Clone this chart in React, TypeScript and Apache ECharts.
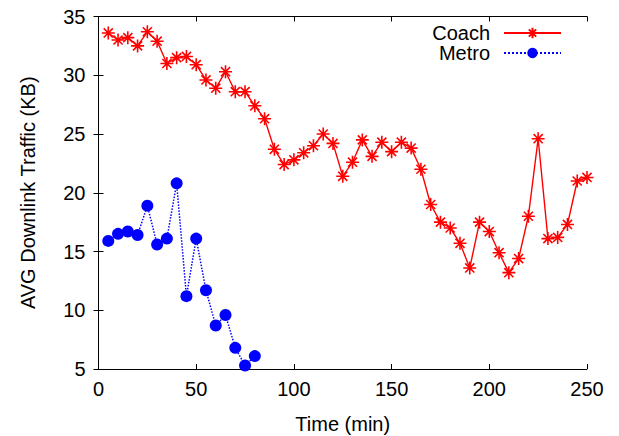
import React, { useEffect, useRef } from "react";
import * as echarts from "echarts";

// Time stamps (minutes) shared by both series
const coachTime = [
  5, 10, 15, 20, 25, 30, 35, 40, 45, 50, 55, 60, 65, 70, 75, 80, 85, 90, 95, 100,
  105, 110, 115, 120, 125, 130, 135, 140, 145, 150, 155, 160, 165, 170, 175, 180,
  185, 190, 195, 200, 205, 210, 215, 220, 225, 230, 235, 240, 245, 250,
];
const coachTraffic = [
  33.6, 33.0, 33.2, 32.5, 33.7, 32.9, 31.0, 31.5, 31.6, 30.9, 29.6, 28.9, 30.3, 28.6,
  28.6, 27.4, 26.3, 23.7, 22.4, 22.8, 23.4, 24.0, 25.0, 24.2, 21.4, 22.6, 24.5, 23.1,
  24.3, 23.5, 24.3, 23.8, 22.0, 19.0, 17.5, 17.0, 15.7, 13.6, 17.5, 16.7, 14.9, 13.2,
  14.4, 18.0, 24.6, 16.1, 16.2, 17.3, 21.0, 21.3,
];
const metroTime = [5, 10, 15, 20, 25, 30, 35, 40, 45, 50, 55, 60, 65, 70, 75, 80];
const metroTraffic = [
  15.9, 16.5, 16.7, 16.4, 18.9, 15.6, 16.1, 20.8, 11.2, 16.1, 11.7, 8.7, 9.6, 6.8, 5.3, 6.1,
];

const xTicks = { min: 0, max: 250, interval: 50 };
const yTicks = { min: 5, max: 35, interval: 5 };

const FONT = "Liberation Sans";
const FONT_SIZE = 20;
const STAR = "path://M0,-10L0,10M-10,0L10,0M-7,-7L7,7M-7,7L7,-7";

export default function App() {
  const ref = useRef<HTMLDivElement>(null);

  useEffect(() => {
    if (!ref.current) return;
    const chart = echarts.init(ref.current, null, { renderer: "svg" });

    const axisLine = { show: true, lineStyle: { color: "#000", width: 1 } };
    const axisTick = { show: true, inside: true, length: 5, lineStyle: { color: "#000", width: 1 } };
    const axisLabel = { color: "#000", fontFamily: FONT, fontSize: FONT_SIZE };
    const nameStyle = { color: "#000", fontFamily: FONT, fontSize: FONT_SIZE };

    chart.setOption({
      animation: false,
      backgroundColor: "#fff",
      grid: {
        left: 98.5,
        top: 16.5,
        width: 488.5,
        height: 352.5,
        containLabel: false,
        outerBoundsMode: "none",
      },
      legend: {
        orient: "vertical",
        right: 52,
        top: 18,
        align: "right",
        itemWidth: 57,
        itemHeight: 13,
        itemGap: 0,
        textStyle: { color: "#000", fontFamily: FONT, fontSize: FONT_SIZE, padding: [0, 9, 0, 0] },
        data: ["Coach", "Metro"],
      },
      xAxis: [
        {
          type: "value",
          position: "bottom",
          ...xTicks,
          name: "Time (min)",
          nameLocation: "middle",
          nameGap: 45,
          nameTextStyle: nameStyle,
          axisLine,
          axisTick,
          axisLabel: { ...axisLabel, margin: 10 },
          splitLine: { show: false },
        },
        {
          type: "value",
          position: "top",
          ...xTicks,
          axisLine,
          axisTick,
          axisLabel: { show: false },
          splitLine: { show: false },
        },
      ],
      yAxis: [
        {
          type: "value",
          position: "left",
          ...yTicks,
          name: "AVG Downlink Traffic (KB)",
          nameLocation: "middle",
          nameGap: 61,
          nameTextStyle: nameStyle,
          axisLine,
          axisTick,
          axisLabel: { ...axisLabel, margin: 13 },
          splitLine: { show: false },
        },
        {
          type: "value",
          position: "right",
          ...yTicks,
          axisLine,
          axisTick,
          axisLabel: { show: false },
          splitLine: { show: false },
        },
      ],
      series: [
        {
          name: "Coach",
          type: "line",
          data: coachTime.map((t, i) => [t, coachTraffic[i]]),
          symbol: STAR,
          symbolSize: 13,
          lineStyle: { color: "#ff0000", width: 1.4, type: "solid" },
          itemStyle: { color: "#ff0000", borderColor: "#ff0000", borderWidth: 1.6 },
          z: 3,
        },
        {
          name: "Metro",
          type: "line",
          data: metroTime.map((t, i) => [t, metroTraffic[i]]),
          symbol: "circle",
          symbolSize: 12,
          lineStyle: { color: "#0000ff", width: 1.5, type: "dotted" },
          itemStyle: { color: "#0000ff", borderWidth: 0 },
          z: 2,
        },
      ],
    });

    return () => chart.dispose();
  }, []);

  return (
    <div
      ref={ref}
      style={{ position: "absolute", left: 0, top: 0, width: 619, height: 436 }}
    />
  );
}
